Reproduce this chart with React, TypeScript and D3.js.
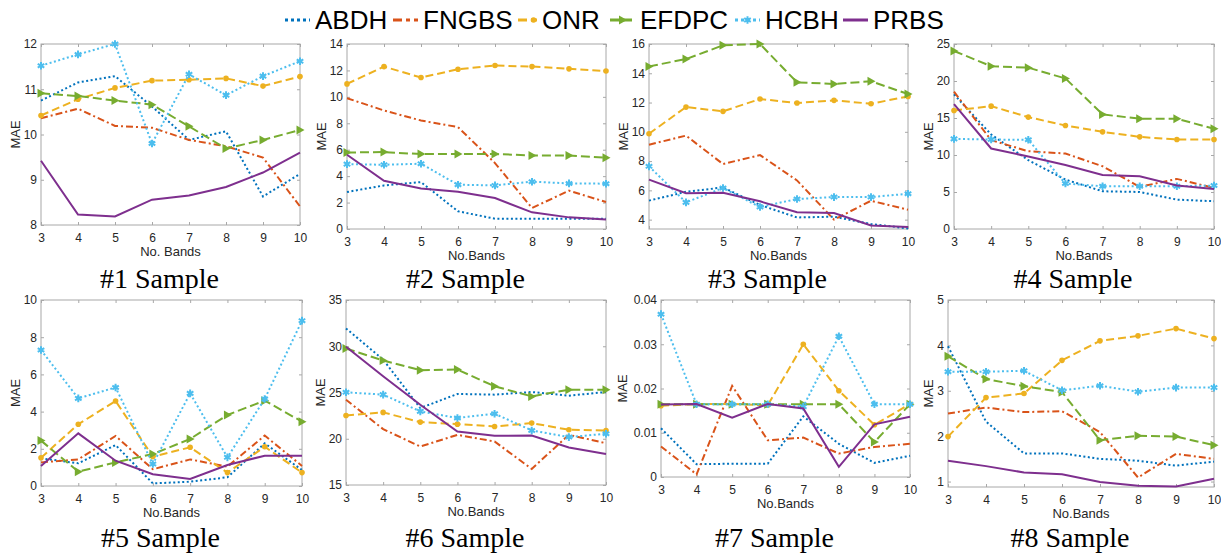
import { useEffect, useRef } from "react";
import * as d3 from "d3";

const bands = [3, 4, 5, 6, 7, 8, 9, 10];
const seriesNames = ["ABDH", "FNGBS", "ONR", "EFDPC", "HCBH", "PRBS"];

// each sample: one row per series, in seriesNames order
const sample1 = [
  [10.75, 11.15, 11.29, 10.62, 9.88, 10.07, 8.63, 9.13],
  [10.36, 10.57, 10.19, 10.15, 9.88, 9.74, 9.49, 8.41],
  [10.42, 10.78, 11.03, 11.19, 11.21, 11.24, 11.07, 11.28],
  [10.91, 10.85, 10.75, 10.66, 10.18, 9.69, 9.88, 10.1],
  [11.52, 11.77, 12.0, 9.8, 11.33, 10.87, 11.29, 11.62],
  [9.42, 8.23, 8.19, 8.56, 8.65, 8.84, 9.16, 9.6],
];
const sample2 = [
  [2.8, 3.3, 3.55, 1.34, 0.78, 0.78, 0.78, 0.78],
  [9.9, 8.97, 8.21, 7.71, 4.99, 1.59, 2.9, 2.04],
  [10.98, 12.29, 11.46, 12.09, 12.37, 12.29, 12.12, 11.96],
  [5.79, 5.82, 5.67, 5.67, 5.67, 5.57, 5.57, 5.39],
  [4.91, 4.86, 4.94, 3.35, 3.3, 3.58, 3.45, 3.43],
  [5.62, 3.65, 3.07, 2.82, 2.34, 1.26, 0.88, 0.71],
];
const sample3 = [
  [5.3, 5.9, 6.2, 5.0, 4.15, 4.2, 3.7, 3.4],
  [9.12, 9.74, 7.8, 8.41, 6.68, 4.0, 5.29, 4.68],
  [9.87, 11.69, 11.4, 12.24, 11.97, 12.15, 11.92, 12.42],
  [14.47, 14.97, 15.91, 16.0, 13.38, 13.27, 13.45, 12.58],
  [7.64, 5.18, 6.16, 4.86, 5.41, 5.54, 5.54, 5.77],
  [6.73, 5.8, 5.83, 5.25, 4.5, 4.45, 3.6, 3.5],
];
const sample4 = [
  [18.19, 12.77, 9.3, 6.68, 5.1, 5.0, 3.97, 3.75],
  [18.55, 12.0, 10.51, 10.2, 8.48, 5.69, 6.77, 5.55],
  [16.02, 16.6, 15.12, 13.99, 13.13, 12.45, 12.09, 12.09],
  [24.05, 22.0, 21.8, 20.35, 15.48, 14.9, 14.9, 13.54],
  [12.18, 12.09, 12.05, 6.14, 5.78, 5.78, 5.78, 5.87],
  [16.88, 10.88, 9.79, 8.66, 7.31, 7.13, 5.87, 5.42],
];
const sample5 = [
  [1.49, 1.22, 2.2, 0.14, 0.23, 0.47, 2.29, 0.86],
  [1.27, 1.43, 2.69, 0.9, 1.43, 1.04, 2.71, 1.08],
  [1.52, 3.32, 4.57, 1.58, 2.08, 0.72, 2.11, 0.72],
  [2.44, 0.77, 1.27, 1.72, 2.53, 3.82, 4.59, 3.46],
  [7.31, 4.71, 5.3, 1.18, 4.98, 1.54, 4.68, 8.89],
  [1.08, 2.83, 1.36, 0.63, 0.38, 1.13, 1.63, 1.63],
];
const sample6 = [
  [31.93, 28.56, 23.32, 24.84, 24.77, 25.05, 24.66, 25.05],
  [24.22, 21.04, 19.16, 20.42, 19.7, 16.74, 20.42, 19.52],
  [22.52, 22.85, 21.8, 21.58, 21.33, 21.69, 20.97, 20.9],
  [29.76, 28.46, 27.41, 27.48, 25.67, 24.58, 25.31, 25.31],
  [25.02, 24.77, 22.96, 22.24, 22.71, 20.9, 20.18, 20.54],
  [29.94, 26.76, 23.68, 20.79, 20.32, 20.35, 19.05, 18.36],
];
const sample7 = [
  [0.011, 0.0029, 0.003, 0.003, 0.0137, 0.0075, 0.0032, 0.0048],
  [0.0069, 0.0006, 0.0206, 0.0083, 0.0089, 0.0053, 0.0068, 0.0075],
  [0.0161, 0.0165, 0.0165, 0.0162, 0.03, 0.0195, 0.0118, 0.0165],
  [0.01645, 0.01645, 0.01645, 0.01645, 0.01645, 0.01645, 0.0079, 0.01645],
  [0.0368, 0.01645, 0.01645, 0.01645, 0.0159, 0.0318, 0.01645, 0.01645],
  [0.0164, 0.0165, 0.0134, 0.0165, 0.0155, 0.0023, 0.0119, 0.0136],
];
const sample8 = [
  [3.98, 2.32, 1.62, 1.62, 1.5, 1.46, 1.35, 1.44],
  [2.5, 2.63, 2.53, 2.55, 2.09, 1.09, 1.61, 1.5],
  [1.99, 2.85, 2.94, 3.67, 4.1, 4.21, 4.37, 4.15],
  [3.76, 3.26, 3.1, 2.97, 1.91, 2.01, 1.99, 1.8],
  [3.42, 3.42, 3.44, 3.01, 3.11, 2.98, 3.07, 3.07],
  [1.46, 1.34, 1.2, 1.16, 0.99, 0.91, 0.89, 1.06],
];

const yTicks1 = [8, 9, 10, 11, 12];
const yTicks2 = [0, 2, 4, 6, 8, 10, 12, 14];
const yTicks3 = [4, 6, 8, 10, 12, 14, 16];
const yTicks4 = [0, 5, 10, 15, 20, 25];
const yTicks5 = [0, 2, 4, 6, 8, 10];
const yTicks6 = [15, 20, 25, 30, 35];
const yTicks7 = [0, 0.01, 0.02, 0.03, 0.04];
const yTicks8 = [1, 2, 3, 4, 5];

const colors = ["#0072BD", "#D95319", "#EDB120", "#77AC30", "#4DBEEE", "#7E2F8E"];
const dashes = ["2,2.5", "7,3,2,3", "8,4", "9,4", "2,2.5", null];
const markers = [null, null, "circle", "triangle", "star", null];

// plot rectangles [left, top, right, bottom] in page px
const panels = [
  { title: "#1 Sample", data: sample1, yDomain: [8, 12], yTicks: yTicks1, xLabel: "No. Bands", rect: [41, 44, 300, 225] },
  { title: "#2 Sample", data: sample2, yDomain: [0, 14], yTicks: yTicks2, xLabel: "No.Bands", rect: [347, 44, 606, 229] },
  { title: "#3 Sample", data: sample3, yDomain: [3.36, 16], yTicks: yTicks3, xLabel: "No.Bands", rect: [649, 44, 908, 229] },
  { title: "#4 Sample", data: sample4, yDomain: [0, 25], yTicks: yTicks4, xLabel: "No.Bands", rect: [954, 44, 1214, 229] },
  { title: "#5 Sample", data: sample5, yDomain: [0, 10], yTicks: yTicks5, xLabel: "No.Bands", rect: [41, 300, 302, 486] },
  { title: "#6 Sample", data: sample6, yDomain: [15, 35], yTicks: yTicks6, xLabel: "No.Bands", rect: [346, 300, 606, 485] },
  { title: "#7 Sample", data: sample7, yDomain: [0, 0.04], yTicks: yTicks7, xLabel: "No.Bands", rect: [661, 300, 910, 477] },
  { title: "#8 Sample", data: sample8, yDomain: [0.88, 5], yTicks: yTicks8, xLabel: "No.Bands", rect: [948, 300, 1214, 487] },
];

const legendX = [285, 393, 518, 610, 735, 843];

const sans = "Arial, 'Liberation Sans', Helvetica, sans-serif";
const serif = "'Times New Roman', 'Liberation Serif', serif";

function drawMarker(g, kind, color, cx, cy) {
  if (kind === "circle") {
    g.append("circle").attr("cx", cx).attr("cy", cy).attr("r", 2.8).attr("fill", color);
  } else if (kind === "triangle") {
    g.append("path")
      .attr("d", `M${cx - 3.5},${cy - 4.5}L${cx + 4.5},${cy}L${cx - 3.5},${cy + 4.5}Z`)
      .attr("fill", color);
  } else if (kind === "star") {
    g.append("path")
      .attr("transform", `translate(${cx},${cy})`)
      .attr("d", d3.symbol(d3.symbolAsterisk, 40)())
      .attr("stroke", color)
      .attr("stroke-width", 2)
      .attr("fill", "none");
    g.append("circle").attr("cx", cx).attr("cy", cy).attr("r", 1.8).attr("fill", color);
  }
}

export default function App() {
  const svgRef = useRef(null);

  useEffect(() => {
    const svg = d3.select(svgRef.current);
    svg.selectAll("*").remove();

    // legend
    const legend = svg.append("g");
    seriesNames.forEach((name, i) => {
      const lx = legendX[i];
      const lw = markers[i] === "circle" ? 19 : 25;
      const item = legend.append("g");
      item
        .append("line")
        .attr("x1", lx)
        .attr("x2", lx + lw)
        .attr("y1", 20)
        .attr("y2", 20)
        .attr("stroke", colors[i])
        .attr("stroke-width", 3)
        .attr("stroke-dasharray", dashes[i] ? (i === 0 || i === 4 ? "3,3" : i === 1 ? "9,4,4,4" : "9,4") : null);
      drawMarker(item, markers[i], colors[i], lx + lw / 2 + (markers[i] === "circle" ? 6 : 0), 20);
      item
        .append("text")
        .attr("x", lx + lw + 5)
        .attr("y", 29)
        .attr("font-family", sans)
        .attr("font-size", 26)
        .attr("fill", "#000")
        .text(name);
    });

    panels.forEach((p) => {
      const [x0, y0, x1, y1] = p.rect;
      const x = d3.scaleLinear().domain([3, 10]).range([x0, x1]);
      const y = d3.scaleLinear().domain(p.yDomain).range([y1, y0]);
      const g = svg.append("g");

      g.append("rect")
        .attr("x", x0)
        .attr("y", y0)
        .attr("width", x1 - x0)
        .attr("height", y1 - y0)
        .attr("fill", "#fff")
        .attr("stroke", "#a8a8a8")
        .attr("stroke-width", 1);

      const fmt = d3.format("~g");
      const styleAxis = (a) => {
        a.select(".domain").remove();
        a.selectAll(".tick line").attr("stroke", "#a8a8a8");
        a.selectAll("text")
          .attr("font-family", sans)
          .attr("font-size", 12)
          .attr("fill", "#262626");
      };

      g.append("g")
        .attr("transform", `translate(0,${y1})`)
        .call(d3.axisBottom(x).tickValues(bands).tickSize(-3).tickPadding(8).tickFormat(d3.format("d")))
        .call(styleAxis);
      g.append("g")
        .attr("transform", `translate(0,${y0})`)
        .call(d3.axisTop(x).tickValues(bands).tickSize(-3).tickFormat(() => ""))
        .call(styleAxis);
      g.append("g")
        .attr("transform", `translate(${x0},0)`)
        .call(d3.axisLeft(y).tickValues(p.yTicks).tickSize(-3).tickPadding(4).tickFormat(fmt))
        .call(styleAxis);
      g.append("g")
        .attr("transform", `translate(${x1},0)`)
        .call(d3.axisRight(y).tickValues(p.yTicks).tickSize(-3).tickFormat(() => ""))
        .call(styleAxis);

      // axis labels
      const maxLabel = d3.max(p.yTicks.map((t) => fmt(t).length));
      g.append("text")
        .attr("transform", `translate(${x0 - maxLabel * 6.2 - 9},${(y0 + y1) / 2}) rotate(-90)`)
        .attr("text-anchor", "middle")
        .attr("font-family", sans)
        .attr("font-size", 13)
        .attr("fill", "#262626")
        .text("MAE");
      g.append("text")
        .attr("x", (x0 + x1) / 2)
        .attr("y", y1 + 31)
        .attr("text-anchor", "middle")
        .attr("font-family", sans)
        .attr("font-size", 13)
        .attr("fill", "#262626")
        .text(p.xLabel);

      // series
      const line = d3
        .line()
        .x((d, i) => x(bands[i]))
        .y((d) => y(d));
      p.data.forEach((vals, si) => {
        g.append("path")
          .attr("d", line(vals))
          .attr("fill", "none")
          .attr("stroke", colors[si])
          .attr("stroke-width", 2)
          .attr("stroke-dasharray", dashes[si]);
        if (markers[si]) {
          vals.forEach((v, i) => drawMarker(g, markers[si], colors[si], x(bands[i]), y(v)));
        }
      });

      // sample title
      g.append("text")
        .attr("x", (x0 + x1) / 2 - 11)
        .attr("y", y0 < 100 ? 288 : 547)
        .attr("text-anchor", "middle")
        .attr("font-family", serif)
        .attr("font-size", 28)
        .attr("fill", "#000")
        .text(p.title);
    });
  }, []);

  return (
    <svg
      ref={svgRef}
      width={1221}
      height={553}
      style={{ position: "absolute", left: 0, top: 0, background: "#fff" }}
    />
  );
}
